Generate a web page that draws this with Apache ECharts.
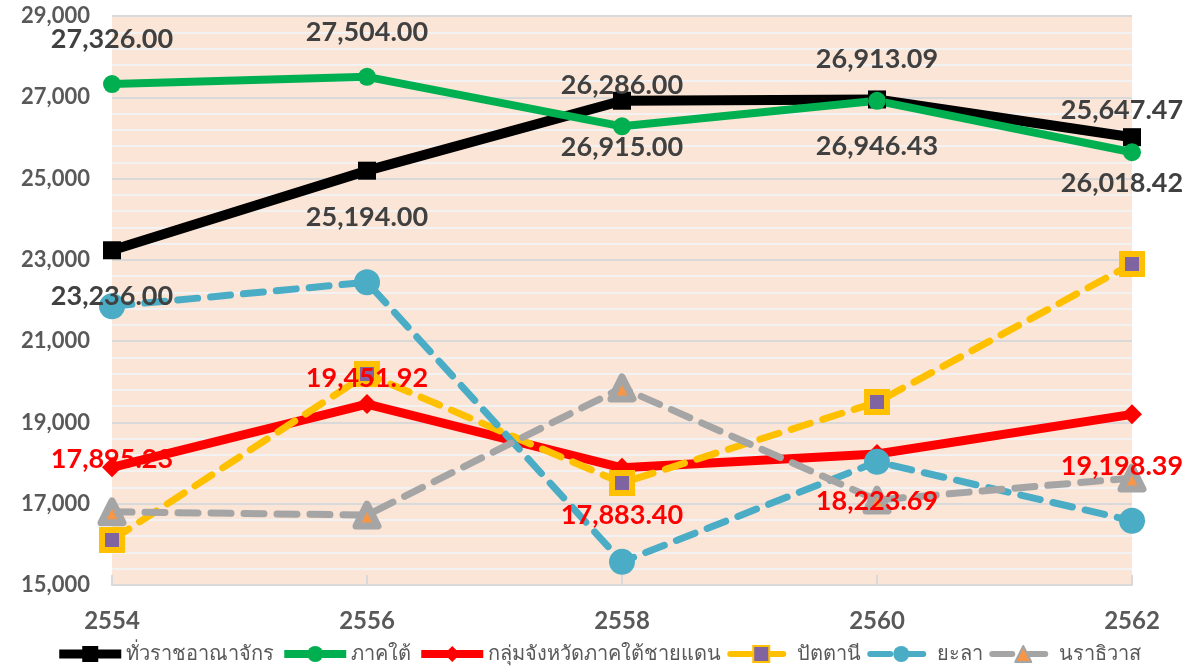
<!DOCTYPE html>
<html>
<head>
<meta charset="utf-8">
<script src="https://cdn.jsdelivr.net/npm/echarts@6/dist/echarts.min.js"></script>
<style>
  html, body { margin: 0; padding: 0; background: #fff; }
  #chart { width: 1196px; height: 666px; }
</style>
</head>
<body>
<div id="chart"></div>
<script>
  // ปี พ.ศ.
  const years = ["2554", "2556", "2558", "2560", "2562"]

  const wholeKingdom = [23236.00, 25194.00, 26915.00, 26946.43, 26018.42]
  const southRegion = [27326.00, 27504.00, 26286.00, 26913.09, 25647.47]
  const borderProvinces = [17895.23, 19451.92, 17883.40, 18223.69, 19198.39]
  const pattani = [16110, 20190, 17510, 19500, 22900]
  const yala = [21860, 22450, 15570, 18030, 16580]
  const narathiwat = [16800, 16720, 19850, 17090, 17630]

  const yTicks = { min: 15000, max: 29000, interval: 2000 }

  const font = "Lato, 'Noto Sans', sans-serif"
  const textGray = "#595959"
  const labelGray = "#404040"

  // label placement per point
  const withLabels = (values, places) =>
    values.map((v, i) => ({ value: v, label: places[i] }))

  const fmt = p => Number(p.value).toLocaleString("en-US", { minimumFractionDigits: 2, maximumFractionDigits: 2 })

  const baseLabel = {
    show: true,
    formatter: fmt,
    fontFamily: font,
    fontWeight: "bold",
    fontSize: 27,
    color: labelGray
  }

  const dash = [20, 13]

  const chart = echarts.init(document.getElementById("chart"))

  chart.setOption({
    animation: false,
    textStyle: { fontFamily: font },
    grid: {
      left: 112,
      right: 64,
      top: 16,
      bottom: 81,
      show: true,
      backgroundColor: "#FBE5D6",
      borderWidth: 0
    },
    legend: {
      bottom: -3,
      left: "center",
      itemWidth: 62,
      itemHeight: 20,
      itemGap: 6,
      textStyle: {
        color: textGray,
        fontSize: 20,
        fontFamily: font
      },
      data: [
        { name: "ทั่วราชอาณาจักร", lineStyle: { width: 9 } },
        { name: "ภาคใต้", lineStyle: { width: 8 } },
        { name: "กลุ่มจังหวัดภาคใต้ชายแดน", lineStyle: { width: 8 } },
        { name: "ปัตตานี", lineStyle: { width: 6 } },
        { name: "ยะลา", lineStyle: { width: 6 } },
        { name: "นราธิวาส", lineStyle: { width: 6 } }
      ]
    },
    xAxis: {
      type: "category",
      data: years,
      boundaryGap: false,
      axisLine: { lineStyle: { color: "#D9D9D9", width: 2 } },
      axisTick: { show: true, inside: true, length: 10, lineStyle: { color: "#D9D9D9", width: 2 } },
      axisLabel: {
        margin: 24,
        fontSize: 24,
        fontWeight: "bold",
        color: textGray,
        fontFamily: font
      },
      splitLine: { show: false }
    },
    yAxis: {
      type: "value",
      min: yTicks.min,
      max: yTicks.max,
      interval: yTicks.interval,
      axisLine: { show: false },
      axisTick: { show: false },
      axisLabel: {
        margin: 22,
        fontSize: 22,
        fontWeight: "bold",
        color: textGray,
        fontFamily: font,
        formatter: v => v.toLocaleString("en-US")
      },
      splitLine: { show: true, lineStyle: { color: "#D9D9D9", width: 2 } },
      minorTick: { show: false, splitNumber: 5 },
      minorSplitLine: { show: true, lineStyle: { color: "#F2F2F2", width: 2 } }
    },
    series: [
      {
        name: "ทั่วราชอาณาจักร",
        type: "line",
        data: withLabels(wholeKingdom, [
          { position: "bottom", distance: 24 },
          { position: "bottom", distance: 24 },
          { position: "bottom", distance: 24 },
          { position: "bottom", distance: 24 },
          { position: "bottom", distance: 24, offset: [-10, 0] }
        ]),
        symbol: "rect",
        symbolSize: 18,
        lineStyle: { color: "#000000", width: 10 },
        itemStyle: { color: "#000000" },
        label: baseLabel
      },
      {
        name: "ภาคใต้",
        type: "line",
        data: withLabels(southRegion, [
          { position: "top", distance: 22 },
          { position: "top", distance: 22 },
          { position: "top", distance: 19 },
          { position: "top", distance: 19 },
          { position: "top", distance: 19, offset: [-10, 0] }
        ]),
        symbol: "circle",
        symbolSize: 18,
        lineStyle: { color: "#00B050", width: 8 },
        itemStyle: { color: "#00B050" },
        label: baseLabel
      },
      {
        name: "กลุ่มจังหวัดภาคใต้ชายแดน",
        type: "line",
        data: withLabels(borderProvinces, [
          { position: "inside", offset: [0, -8] },
          { position: "top", distance: 2 },
          { position: "bottom", distance: 24 },
          { position: "bottom", distance: 24 },
          { position: "bottom", distance: 28, offset: [-10, 0] }
        ]),
        symbol: "diamond",
        symbolSize: 20,
        lineStyle: { color: "#FF0000", width: 9 },
        itemStyle: { color: "#FF0000" },
        label: { ...baseLabel, color: "#FF0000" }
      },
      {
        name: "ปัตตานี",
        type: "line",
        data: pattani,
        symbol: "rect",
        symbolSize: 20,
        lineStyle: { color: "#FFC000", width: 7, type: dash, cap: "round" },
        itemStyle: { color: "#8064A2", borderColor: "#FFC000", borderWidth: 6, borderRadius: 3 }
      },
      {
        name: "ยะลา",
        type: "line",
        data: yala,
        symbol: "circle",
        symbolSize: 26,
        lineStyle: { color: "#4BACC6", width: 7, type: dash, cap: "round" },
        itemStyle: { color: "#4BACC6" }
      },
      {
        name: "นราธิวาส",
        type: "line",
        data: narathiwat,
        symbol: "triangle",
        symbolSize: 22,
        lineStyle: { color: "#A5A5A5", width: 7, type: dash, cap: "round" },
        itemStyle: { color: "#F79646", borderColor: "#A5A5A5", borderWidth: 7, borderJoin: "round" }
      }
    ]
  })

  window.addEventListener("resize", () => {
    chart && chart.resize()
  })
</script>
</body>
</html>
